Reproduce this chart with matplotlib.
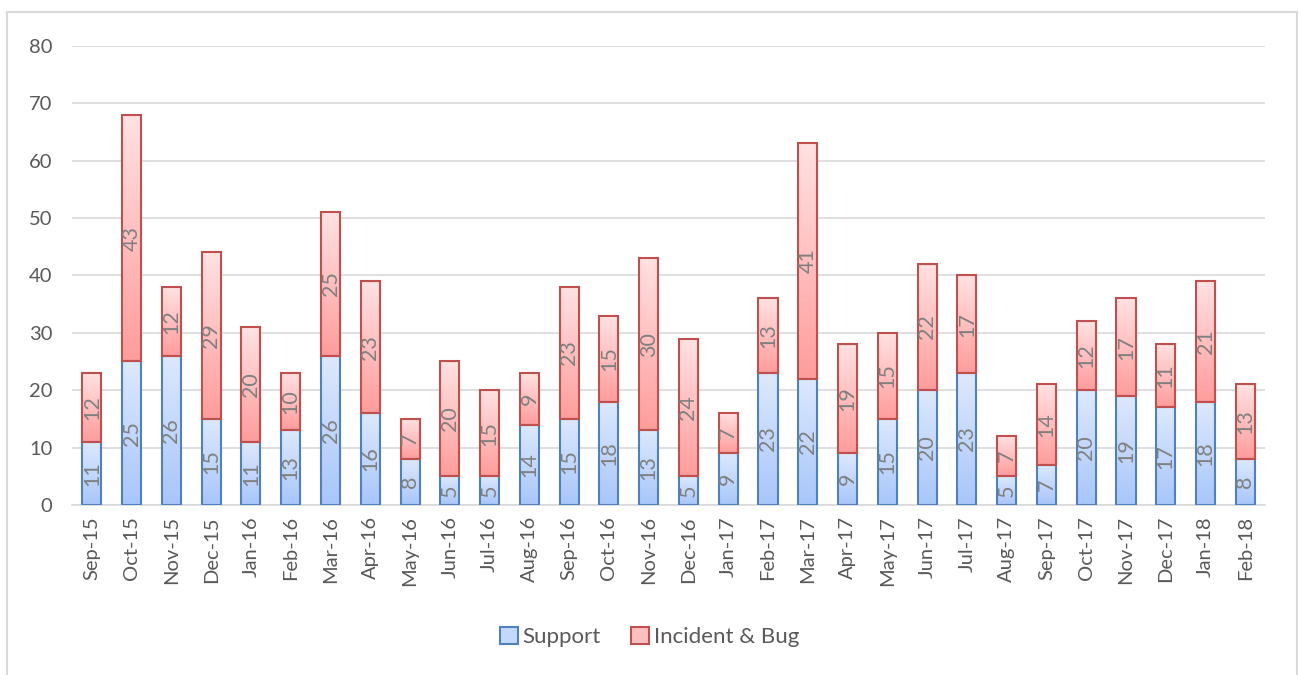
import matplotlib.pyplot as plt
import numpy as np
from matplotlib.colors import LinearSegmentedColormap
from matplotlib.patches import Patch, Rectangle

months = ["Sep-15", "Oct-15", "Nov-15", "Dec-15", "Jan-16", "Feb-16", "Mar-16", "Apr-16",
          "May-16", "Jun-16", "Jul-16", "Aug-16", "Sep-16", "Oct-16", "Nov-16", "Dec-16",
          "Jan-17", "Feb-17", "Mar-17", "Apr-17", "May-17", "Jun-17", "Jul-17", "Aug-17",
          "Sep-17", "Oct-17", "Nov-17", "Dec-17", "Jan-18", "Feb-18"]
support = [11, 25, 26, 15, 11, 13, 26, 16, 8, 5, 5, 14, 15, 18, 13, 5,
           9, 23, 22, 9, 15, 20, 23, 5, 7, 20, 19, 17, 18, 8]
incident = [12, 43, 12, 29, 20, 10, 25, 23, 7, 20, 15, 9, 23, 15, 30, 24,
            7, 13, 41, 19, 15, 22, 17, 7, 14, 12, 17, 11, 21, 13]
y_ticks = [0, 10, 20, 30, 40, 50, 60, 70, 80]

plt.rcParams["font.family"] = ["Lato", "DejaVu Sans"]
TXT = "#595959"

blue_cm = LinearSegmentedColormap.from_list("b", ["#a8c6fa", "#dde9fd"])
red_cm = LinearSegmentedColormap.from_list("r", ["#ff9c9c", "#ffe2e2"])
grad = np.linspace(0, 1, 256).reshape(-1, 1)

fig = plt.figure(figsize=(12.99, 6.75), dpi=100)
ax = fig.add_axes([0.0554, 0.252, 0.9186, 0.680])

x = np.arange(len(months))
w = 0.48
bottoms = np.zeros(len(months))
for vals, cm, edge in [(support, blue_cm, "#4f81bd"), (incident, red_cm, "#c0504d")]:
    vals = np.array(vals, dtype=float)
    for xi, b, v in zip(x, bottoms, vals):
        ax.imshow(grad, cmap=cm, origin="lower", aspect="auto",
                  extent=[xi - w / 2, xi + w / 2, b, b + v], zorder=2)
        ax.text(xi, b + v / 2, str(int(v)), rotation=90, ha="center", va="center",
                color="#808080", fontsize=15.5, zorder=4)
    ax.bar(x, vals, w, bottom=bottoms, facecolor="none", edgecolor=edge,
           linewidth=1.5, zorder=3)
    bottoms = bottoms + vals

ax.set_xlim(-0.5, len(months) - 0.5)
ax.set_ylim(0, 80)
ax.set_yticks(y_ticks)
ax.set_xticks(x)
ax.set_xticklabels(months, rotation=90)
ax.tick_params(axis="both", length=0, colors=TXT, labelsize=14.5)
ax.tick_params(axis="y", pad=14)
ax.tick_params(axis="x", pad=8)
ax.grid(axis="y", color="#d9d9d9", linewidth=1.2, zorder=0)
ax.set_axisbelow(True)
for s in ["top", "right", "left"]:
    ax.spines[s].set_visible(False)
ax.spines["bottom"].set_color("#d9d9d9")
ax.spines["bottom"].set_linewidth(1.2)

handles = [Patch(facecolor="#c3d8fb", edgecolor="#4f81bd", linewidth=1.5, label="Support"),
           Patch(facecolor="#ffc0c0", edgecolor="#c0504d", linewidth=1.5, label="Incident & Bug")]
leg = fig.legend(handles=handles, loc="center", bbox_to_anchor=(0.5, 0.056), ncol=2,
                 frameon=False, fontsize=16, handlelength=0.8, handleheight=0.8,
                 handletextpad=0.2, columnspacing=1.4)
for t in leg.get_texts():
    t.set_color(TXT)

fig.patches.append(Rectangle((7 / 1299, -0.05), 1290 / 1299, 1.05 - 12 / 675,
                             transform=fig.transFigure, fill=False,
                             edgecolor="#d9d9d9", linewidth=1.5))

fig.savefig("out.png", dpi=100)
